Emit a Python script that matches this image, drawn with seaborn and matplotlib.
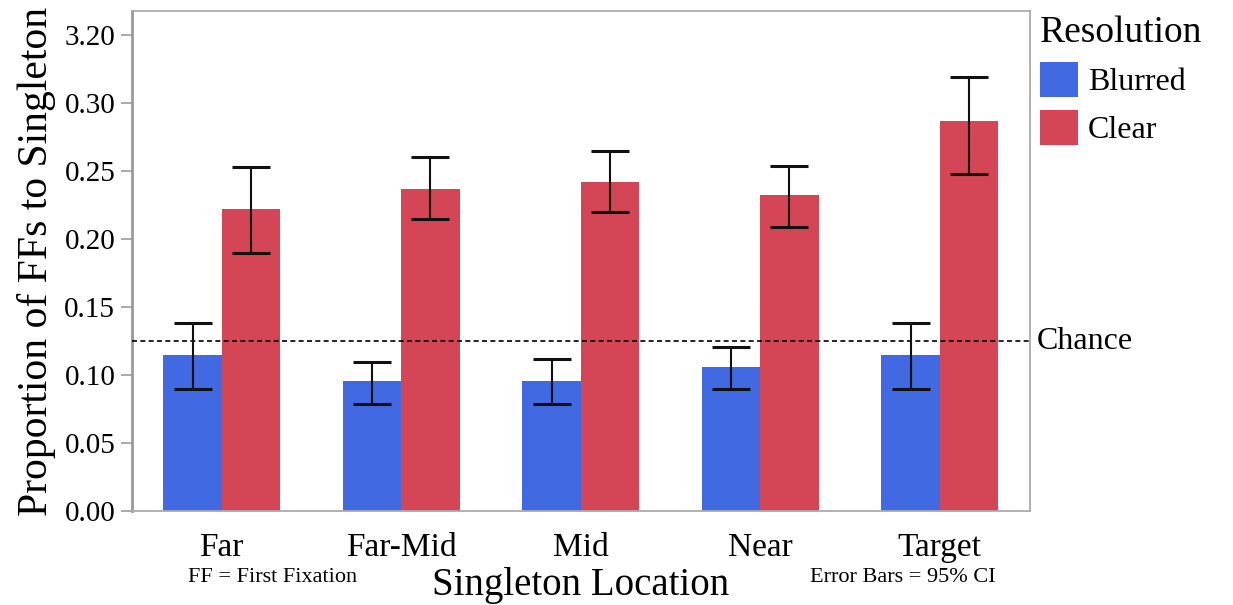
import matplotlib
matplotlib.use("Agg")
import matplotlib.pyplot as plt
import matplotlib.transforms as mtransforms
from matplotlib.patches import Patch
import seaborn as sns
import pandas as pd
import numpy as np

# ---- data ----
locations = ["Far", "Far-Mid", "Mid", "Near", "Target"]
resolutions = ["Blurred", "Clear"]
blurred_mean = [0.115, 0.096, 0.096, 0.106, 0.115]
blurred_lo = [0.090, 0.079, 0.079, 0.090, 0.090]
blurred_hi = [0.138, 0.110, 0.112, 0.121, 0.138]
clear_mean = [0.222, 0.237, 0.242, 0.232, 0.287]
clear_lo = [0.190, 0.215, 0.220, 0.209, 0.248]
clear_hi = [0.253, 0.260, 0.265, 0.254, 0.319]
chance = 0.125
ytick_values = [0.00, 0.05, 0.10, 0.15, 0.20, 0.25, 0.30, 0.35]
ytick_labels = ["0.00", "0.05", "0.10", "0.15", "0.20", "0.25", "0.30", "3.20"]

colors = {"Blurred": "#4169E1", "Clear": "#D44656"}

df = pd.DataFrame({
    "Singleton Location": locations * 2,
    "Resolution": ["Blurred"] * 5 + ["Clear"] * 5,
    "value": blurred_mean + clear_mean,
})
lows = {"Blurred": blurred_lo, "Clear": clear_lo}
highs = {"Blurred": blurred_hi, "Clear": clear_hi}

sns.set_theme(style="white")
plt.rcParams["font.family"] = ["Liberation Serif", "DejaVu Serif"]
plt.rcParams["text.color"] = "black"
plt.rcParams["axes.labelcolor"] = "black"
plt.rcParams["xtick.labelcolor"] = "black"
plt.rcParams["ytick.labelcolor"] = "black"

fig = plt.figure(figsize=(12.33, 6.05), dpi=100)
ax = fig.add_axes([0.107, 0.155, 0.728, 0.827])

sns.barplot(data=df, x="Singleton Location", y="value", hue="Resolution",
            order=locations, hue_order=resolutions, palette=colors,
            width=0.65, saturation=1, errorbar=None, legend=False,
            linewidth=0, edgecolor="none", ax=ax)

for cont, res in zip(ax.containers, resolutions):
    xs = [p.get_x() + p.get_width() / 2 for p in cont.patches]
    m = np.array(blurred_mean if res == "Blurred" else clear_mean)
    lo = np.array(lows[res])
    hi = np.array(highs[res])
    ax.errorbar(xs, m, yerr=[m - lo, hi - m], fmt="none", ecolor="#111111",
                elinewidth=1.5, capsize=14, capthick=2.2, zorder=5)

ax.axhline(chance, color="black", lw=1.2, ls=(0, (3, 2)), zorder=4)
trans = mtransforms.blended_transform_factory(ax.transAxes, ax.transData)
ax.text(1.008, chance, "Chance", transform=trans, ha="left", va="center",
        fontsize=23, clip_on=False)

ax.set_xlim(-0.5, 4.5)
ax.set_ylim(0, 0.3676)
ax.set_yticks(ytick_values)
ax.set_yticklabels(ytick_labels)
ax.tick_params(axis="y", which="major", left=True, length=8, width=1.2,
               color="#999999", labelcolor="black", labelsize=21, pad=4)
ax.tick_params(axis="x", bottom=False, labelcolor="black", labelsize=24, pad=9)

for s in ax.spines.values():
    s.set_visible(True)
    s.set_color("#aaaaaa")
    s.set_linewidth(1.3)
ax.spines["left"].set_linewidth(2.0)
ax.spines["left"].set_color("#999999")

ax.set_ylabel("Proportion of FFs to Singleton", fontsize=30, labelpad=6, color="black")
ax.set_xlabel("Singleton Location", fontsize=28, labelpad=3, color="black")

fig.text(0.221, 0.046, "FF = First Fixation", ha="center", va="center", fontsize=16)
fig.text(0.732, 0.046, "Error Bars = 95% CI", ha="center", va="center", fontsize=16)

handles = [Patch(facecolor=colors[r], edgecolor="none", label=r) for r in resolutions]
leg = ax.legend(handles=handles, title="Resolution", loc="upper left",
                bbox_to_anchor=(0.99, 1.03), frameon=False, fontsize=23,
                title_fontsize=27, handlelength=1.2, handleheight=1.3,
                handletextpad=0.3, labelspacing=0.4, borderaxespad=0.2)
leg._legend_box.align = "left"

fig.savefig("out.png", dpi=100)
